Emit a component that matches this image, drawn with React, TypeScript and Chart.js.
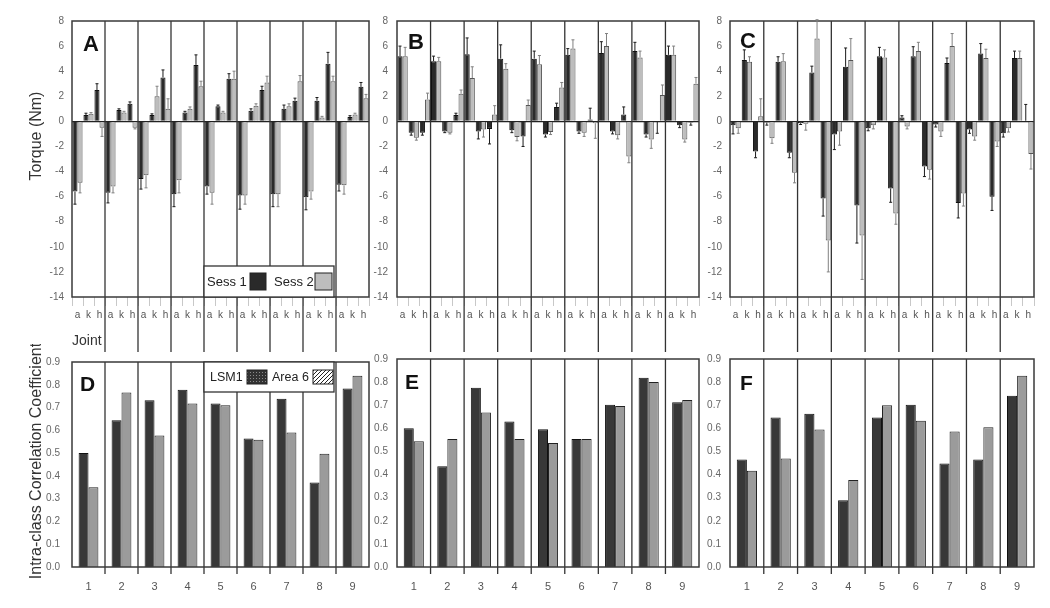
import React, { useEffect, useRef } from 'react';
import { Chart, registerables } from 'chart.js';

Chart.register(...registerables);

// ---------------- data ----------------
const JOINTS = ['a', 'k', 'h'];
const GROUPS = ['1', '2', '3', '4', '5', '6', '7', '8', '9'];
const SESSIONS = ['Sess 1', 'Sess 2'];
const AREAS = ['LSM1', 'Area 6'];

const TORQUE_MIN = -14;
const TORQUE_MAX = 8;
const TORQUE_STEP = 2;
const ICC_MIN = 0;
const ICC_MAX = 0.9;
const ICC_STEP = 0.1;

const TORQUE_TITLE = 'Torque (Nm)';
const ICC_TITLE = 'Intra-class Correlation Coefficient';
const JOINT_TITLE = 'Joint';

// Panel A (joint order a, k, h for groups 1..9)
const A_SESS1 = [-5.6, 0.5, 2.5, -5.7, 0.9, 1.4, -4.6, 0.5, 3.5, -5.8, 0.7, 4.5, -5.2, 1.2, 3.4, -5.9, 0.85, 2.5, -5.8, 1.0, 1.65, -6.05, 1.65, 4.6, -5.05, 0.35, 2.75];
const A_SESS2 = [-4.9, 0.6, -0.5, -5.2, 0.7, -0.5, -4.3, 2.0, 1.0, -4.7, 1.0, 2.8, -5.7, 0.7, 3.4, -5.9, 1.25, 3.1, -5.8, 1.2, 3.2, -5.6, 0.3, 3.2, -5.1, 0.55, 1.85];
const A_ERR1 = [1.0, 0.15, 0.5, 0.8, 0.1, 0.15, 0.8, 0.1, 0.6, 1.0, 0.1, 0.8, 0.6, 0.1, 0.4, 1.1, 0.15, 0.3, 1.0, 0.3, 0.2, 1.0, 0.25, 0.9, 0.5, 0.1, 0.35];
const A_ERR2 = [0.8, 0.1, 0.7, 0.5, 0.1, 0.1, 1.0, 0.8, 0.8, 1.0, 0.15, 0.4, 0.9, 0.1, 0.6, 0.7, 0.15, 0.5, 1.0, 0.2, 0.45, 0.6, 0.1, 0.4, 0.7, 0.1, 0.3];

// Panel B
const B_SESS1 = [5.2, -0.9, -0.9, 4.8, -0.8, 0.5, 5.35, -0.8, -0.6, 5.0, -0.7, -1.2, 5.0, -1.05, 1.15, 5.3, -0.8, 0.15, 5.45, -0.8, 0.55, 5.6, -1.05, -0.05, 5.3, -0.3, -0.1];
const B_SESS2 = [5.2, -1.3, 1.75, 4.8, -0.9, 2.2, 3.45, -0.65, 0.55, 4.2, -1.25, 1.3, 4.55, -0.85, 2.7, 5.8, -0.9, -0.15, 6.0, -1.1, -2.8, 5.1, -1.45, 2.1, 5.3, -1.45, 3.0];
const B_ERR1 = [0.8, 0.2, 0.2, 0.4, 0.1, 0.15, 1.3, 0.6, 1.2, 1.1, 0.2, 0.8, 0.6, 0.2, 0.3, 0.5, 0.15, 0.9, 0.9, 0.2, 0.6, 0.7, 0.2, 0.9, 0.7, 0.2, 0.2];
const B_ERR2 = [0.7, 0.2, 0.5, 0.3, 0.1, 0.3, 0.9, 0.6, 0.7, 0.4, 0.3, 0.4, 0.7, 0.2, 0.4, 0.7, 0.3, 1.2, 1.0, 0.3, 0.5, 0.5, 0.7, 0.8, 0.7, 0.2, 0.5];

// Panel C
const C_SESS1 = [-0.3, 4.9, -2.4, -0.1, 4.75, -2.5, -0.15, 3.9, -6.15, -1.05, 4.35, -6.7, -0.55, 5.2, -5.35, 0.3, 5.2, -3.6, -0.25, 4.65, -6.5, -0.65, 5.4, -6.0, -0.95, 5.05, 0.05];
const C_SESS2 = [-0.55, 4.75, 0.4, -1.35, 4.8, -4.1, -0.2, 6.6, -9.5, -0.8, 4.9, -9.1, -0.3, 5.1, -7.35, -0.4, 5.6, -3.85, -0.8, 6.0, -5.75, -1.2, 5.05, -1.6, -0.55, 5.05, -2.6];
const C_ERR1 = [0.7, 0.8, 0.5, 0.2, 0.4, 0.4, 0.1, 0.5, 1.4, 1.2, 1.5, 3.0, 0.2, 0.7, 1.1, 0.15, 0.75, 0.8, 0.2, 0.4, 1.2, 0.3, 0.8, 1.1, 0.3, 0.55, 1.3];
const C_ERR2 = [0.4, 0.4, 1.4, 0.4, 0.6, 0.8, 0.5, 1.5, 2.5, 1.1, 1.7, 3.5, 0.3, 0.6, 0.85, 0.2, 0.7, 0.75, 0.4, 1.0, 1.0, 0.3, 0.7, 0.4, 0.3, 0.55, 1.2];

// Panels D, E, F (groups 1..9)
const D_LSM1 = [0.5, 0.644, 0.732, 0.778, 0.718, 0.564, 0.739, 0.371, 0.784];
const D_AREA6 = [0.35, 0.766, 0.577, 0.718, 0.71, 0.559, 0.591, 0.497, 0.84];
const E_LSM1 = [0.6, 0.436, 0.776, 0.63, 0.596, 0.554, 0.702, 0.819, 0.713];
const E_AREA6 = [0.544, 0.554, 0.669, 0.554, 0.536, 0.554, 0.697, 0.8, 0.723];
const F_LSM1 = [0.465, 0.647, 0.663, 0.289, 0.647, 0.702, 0.448, 0.465, 0.741];
const F_AREA6 = [0.417, 0.47, 0.595, 0.376, 0.7, 0.633, 0.586, 0.605, 0.828];

const JOINT_LABELS = GROUPS.flatMap(() => JOINTS);

// ---------------- styling ----------------
const FONT = "'Liberation Sans', Arial, Helvetica, sans-serif";
const SESS1_COLOR = '#2a2a2a';
const SESS2_COLOR = '#bdbdbd';
const LSM1_COLOR = '#383838';
const AREA6_COLOR = '#9b9b9b';

type TextItem = {
  text: string;
  x: number;
  y: number;
  font: string;
  color?: string;
  rel?: boolean;
  rot?: number;
  align?: CanvasTextAlign;
  baseline?: CanvasTextBaseline;
};

function textPlugin(items: TextItem[]) {
  return {
    id: 'texts',
    afterDraw(chart: any) {
      const ctx = chart.ctx as CanvasRenderingContext2D;
      const a = chart.chartArea;
      items.forEach((t) => {
        ctx.save();
        ctx.font = t.font;
        ctx.fillStyle = t.color || '#111';
        ctx.textAlign = t.align || 'left';
        ctx.textBaseline = t.baseline || 'alphabetic';
        const x = (t.rel ? a.left : 0) + t.x;
        const y = (t.rel ? a.top : 0) + t.y;
        ctx.translate(x, y);
        if (t.rot) ctx.rotate(t.rot);
        ctx.fillText(t.text, 0, 0);
        ctx.restore();
      });
    },
  };
}

const framePlugin = {
  id: 'frame',
  afterDatasetsDraw(chart: any) {
    const ctx = chart.ctx as CanvasRenderingContext2D;
    const a = chart.chartArea;
    ctx.save();
    ctx.strokeStyle = '#3a3a3a';
    ctx.lineWidth = 1.5;
    ctx.strokeRect(a.left, a.top, a.right - a.left, a.bottom - a.top);
    ctx.restore();
  },
};

function separatorPlugin(per: number, toCanvasBottom: boolean, ext: number) {
  return {
    id: 'separators',
    beforeDatasetsDraw(chart: any) {
      const ctx = chart.ctx as CanvasRenderingContext2D;
      const a = chart.chartArea;
      const xs = chart.scales.x;
      const n = chart.data.labels.length;
      ctx.save();
      ctx.strokeStyle = '#333';
      ctx.lineWidth = 1.3;
      for (let i = per; i < n; i += per) {
        const px = (xs.getPixelForValue(i - 1) + xs.getPixelForValue(i)) / 2;
        ctx.beginPath();
        ctx.moveTo(px, a.top);
        ctx.lineTo(px, toCanvasBottom ? chart.height : a.bottom + ext);
        ctx.stroke();
      }
      ctx.restore();
    },
  };
}

const errorBarPlugin = {
  id: 'errorBars',
  afterDatasetsDraw(chart: any) {
    const ctx = chart.ctx as CanvasRenderingContext2D;
    const ys = chart.scales.y;
    chart.data.datasets.forEach((ds: any, d: number) => {
      if (!ds.errors) return;
      const meta = chart.getDatasetMeta(d);
      ctx.save();
      ctx.strokeStyle = ds.errColor || '#222';
      ctx.lineWidth = 1;
      meta.data.forEach((el: any, i: number) => {
        const v = ds.data[i];
        const e = ds.errors[i];
        if (!e) return;
        const dir = v < 0 ? -1 : 1;
        const y0 = ys.getPixelForValue(v);
        const y1 = ys.getPixelForValue(v + dir * e);
        ctx.beginPath();
        ctx.moveTo(el.x, y0);
        ctx.lineTo(el.x, y1);
        ctx.moveTo(el.x - 1.5, y1);
        ctx.lineTo(el.x + 1.5, y1);
        ctx.stroke();
      });
      ctx.restore();
    });
  },
};

function makePattern(ctx: CanvasRenderingContext2D, kind: string): CanvasPattern | string {
  const c = document.createElement('canvas');
  if (kind === 'dots') {
    c.width = 3;
    c.height = 3;
    const p = c.getContext('2d')!;
    p.fillStyle = '#333';
    p.fillRect(0, 0, 3, 3);
    p.fillStyle = '#8a8a8a';
    p.fillRect(1, 1, 1, 1);
  } else {
    c.width = 4;
    c.height = 4;
    const p = c.getContext('2d')!;
    p.fillStyle = '#fff';
    p.fillRect(0, 0, 4, 4);
    p.strokeStyle = '#222';
    p.lineWidth = 1;
    p.beginPath();
    p.moveTo(0, 4);
    p.lineTo(4, 0);
    p.moveTo(-1, 1);
    p.lineTo(1, -1);
    p.moveTo(3, 5);
    p.lineTo(5, 3);
    p.stroke();
  }
  return ctx.createPattern(c, 'repeat') || '#555';
}

type LegendItem = { tx: number; sx: number; sw: number; sh: number; style: string };
type LegendSpec = { dx: number; w: number; h: number; anchor: 'top' | 'bottom'; font: string; items: LegendItem[] };

function boxLegendPlugin(spec: LegendSpec) {
  return {
    id: 'boxLegend',
    afterDraw(chart: any) {
      const ctx = chart.ctx as CanvasRenderingContext2D;
      const a = chart.chartArea;
      const bx = a.left + spec.dx;
      const by = spec.anchor === 'bottom' ? a.bottom - spec.h : a.top;
      ctx.save();
      ctx.fillStyle = '#fff';
      ctx.fillRect(bx, by, spec.w, spec.h);
      ctx.strokeStyle = '#333';
      ctx.lineWidth = 1.3;
      ctx.strokeRect(bx, by, spec.w, spec.h);
      const cy = by + spec.h / 2;
      chart.data.datasets.forEach((ds: any, i: number) => {
        const it = spec.items[i];
        if (!it) return;
        ctx.font = spec.font;
        ctx.fillStyle = '#222';
        ctx.textAlign = 'left';
        ctx.textBaseline = 'middle';
        ctx.fillText(ds.label, bx + it.tx, cy + 1);
        const fill = it.style === 'solid' ? ds.backgroundColor : makePattern(ctx, it.style);
        ctx.fillStyle = fill as any;
        ctx.fillRect(bx + it.sx, cy - it.sh / 2, it.sw, it.sh);
        ctx.strokeStyle = '#222';
        ctx.lineWidth = 1;
        ctx.strokeRect(bx + it.sx, cy - it.sh / 2, it.sw, it.sh);
      });
      ctx.restore();
    },
  };
}

// ---------------- chart configs ----------------
type TorqueOpts = {
  s1: number[];
  s2: number[];
  e1: number[];
  e2: number[];
  yW: number;
  padR: number;
  tickPad: number;
  texts: TextItem[];
  legend?: LegendSpec;
};

function torqueConfig(o: TorqueOpts) {
  const plugins: any[] = [separatorPlugin(3, true, 0), framePlugin, errorBarPlugin, textPlugin(o.texts)];
  if (o.legend) plugins.push(boxLegendPlugin(o.legend));
  return {
    type: 'bar',
    data: {
      labels: JOINT_LABELS,
      datasets: [
        {
          label: SESSIONS[0],
          data: o.s1,
          errors: o.e1,
          errColor: '#1a1a1a',
          backgroundColor: SESS1_COLOR,
          borderColor: '#111',
          borderWidth: 1,
          categoryPercentage: 0.92,
          barPercentage: 1.0,
        },
        {
          label: SESSIONS[1],
          data: o.s2,
          errors: o.e2,
          errColor: '#808080',
          backgroundColor: SESS2_COLOR,
          borderColor: '#555',
          borderWidth: 1,
          categoryPercentage: 0.92,
          barPercentage: 1.0,
        },
      ],
    },
    options: {
      responsive: false,
      animation: false,
      events: [],
      layout: { padding: { top: 21, right: o.padR, left: 0, bottom: 0 } },
      plugins: { legend: { display: false }, tooltip: { enabled: false } },
      scales: {
        x: {
          type: 'category',
          offset: true,
          grid: {
            offset: true,
            drawOnChartArea: false,
            drawTicks: true,
            tickLength: 9,
            tickColor: '#c8c8c8',
            color: '#c8c8c8',
            lineWidth: 1,
          },
          border: { display: false },
          ticks: {
            autoSkip: false,
            maxRotation: 0,
            minRotation: 0,
            padding: 3,
            color: '#555',
            font: { family: FONT, size: 10 },
          },
          afterFit: (s: any) => {
            s.height = 55;
          },
        },
        y: {
          min: TORQUE_MIN,
          max: TORQUE_MAX,
          ticks: {
            stepSize: TORQUE_STEP,
            padding: o.tickPad,
            color: '#666',
            font: { family: FONT, size: 10 },
          },
          grid: {
            drawTicks: false,
            lineWidth: 1.2,
            color: (c: any) => (c.tick && c.tick.value === 0 ? '#222' : 'rgba(0,0,0,0)'),
          },
          border: { display: false },
          afterFit: (s: any) => {
            s.width = o.yW;
          },
        },
      },
    },
    plugins,
  };
}

type IccOpts = {
  lsm1: number[];
  area6: number[];
  yW: number;
  padR: number;
  tickPad: number;
  texts: TextItem[];
  legend?: LegendSpec;
};

function iccConfig(o: IccOpts) {
  const plugins: any[] = [separatorPlugin(1, false, 7), framePlugin, textPlugin(o.texts)];
  if (o.legend) plugins.push(boxLegendPlugin(o.legend));
  return {
    type: 'bar',
    data: {
      labels: GROUPS,
      datasets: [
        {
          label: AREAS[0],
          data: o.lsm1,
          backgroundColor: LSM1_COLOR,
          borderColor: '#111',
          borderWidth: 1,
          categoryPercentage: 0.6,
          barPercentage: 1.0,
        },
        {
          label: AREAS[1],
          data: o.area6,
          backgroundColor: AREA6_COLOR,
          borderColor: '#222',
          borderWidth: 1,
          categoryPercentage: 0.6,
          barPercentage: 1.0,
        },
      ],
    },
    options: {
      responsive: false,
      animation: false,
      events: [],
      layout: { padding: { top: 8, right: o.padR, left: 0, bottom: 0 } },
      plugins: { legend: { display: false }, tooltip: { enabled: false } },
      scales: {
        x: {
          type: 'category',
          offset: true,
          grid: { display: false },
          border: { display: false },
          ticks: {
            padding: 5,
            color: '#555',
            font: { family: FONT, size: 11 },
          },
          afterFit: (s: any) => {
            s.height = 41;
          },
        },
        y: {
          min: ICC_MIN,
          max: ICC_MAX,
          ticks: {
            stepSize: ICC_STEP,
            padding: o.tickPad,
            color: '#666',
            font: { family: FONT, size: 10 },
            callback: (v: any) => Number(v).toFixed(1),
          },
          grid: { display: false, drawTicks: false },
          border: { display: false },
          afterFit: (s: any) => {
            s.width = o.yW;
          },
        },
      },
    },
    plugins,
  };
}

// ---------------- components ----------------
type PanelProps = { left: number; top: number; width: number; height: number; make: () => any };

function Panel({ left, top, width, height, make }: PanelProps) {
  const ref = useRef<HTMLCanvasElement | null>(null);
  useEffect(() => {
    if (!ref.current) return;
    const chart = new Chart(ref.current, make());
    return () => chart.destroy();
  }, []);
  return (
    <canvas
      ref={ref}
      width={width}
      height={height}
      style={{ position: 'absolute', left, top, width, height }}
    />
  );
}

const letterFontTop = `bold 22px ${FONT}`;
const letterFontBottom = `bold 21px ${FONT}`;

export default function App() {
  return (
    <div
      style={{
        position: 'absolute',
        left: 0,
        top: 0,
        width: 1050,
        height: 608,
        background: '#fff',
        overflow: 'hidden',
      }}
    >
      <Panel
        left={0}
        top={0}
        width={380}
        height={352}
        make={() =>
          torqueConfig({
            s1: A_SESS1,
            s2: A_SESS2,
            e1: A_ERR1,
            e2: A_ERR2,
            yW: 72,
            padR: 11,
            tickPad: 8,
            texts: [
              { text: 'A', x: 11, y: 30, rel: true, font: letterFontTop },
              {
                text: TORQUE_TITLE,
                x: 37,
                y: 136,
                rot: -Math.PI / 2,
                align: 'center',
                baseline: 'middle',
                font: `16px ${FONT}`,
                color: '#333',
              },
              { text: JOINT_TITLE, x: 72, y: 345, font: `14px ${FONT}`, color: '#333' },
            ],
            legend: {
              dx: 132,
              w: 130,
              h: 31,
              anchor: 'bottom',
              font: `13px ${FONT}`,
              items: [
                { tx: 3, sx: 46, sw: 16, sh: 17, style: 'solid' },
                { tx: 70, sx: 111, sw: 17, sh: 17, style: 'solid' },
              ],
            },
          })
        }
      />
      <Panel
        left={360}
        top={0}
        width={350}
        height={352}
        make={() =>
          torqueConfig({
            s1: B_SESS1,
            s2: B_SESS2,
            e1: B_ERR1,
            e2: B_ERR2,
            yW: 37,
            padR: 11,
            tickPad: 9,
            texts: [{ text: 'B', x: 11, y: 28, rel: true, font: letterFontTop }],
          })
        }
      />
      <Panel
        left={700}
        top={0}
        width={350}
        height={352}
        make={() =>
          torqueConfig({
            s1: C_SESS1,
            s2: C_SESS2,
            e1: C_ERR1,
            e2: C_ERR2,
            yW: 30,
            padR: 16,
            tickPad: 8,
            texts: [{ text: 'C', x: 10, y: 27, rel: true, font: letterFontTop }],
          })
        }
      />
      <Panel
        left={0}
        top={344}
        width={380}
        height={264}
        make={() =>
          iccConfig({
            lsm1: D_LSM1,
            area6: D_AREA6,
            yW: 72,
            padR: 11,
            tickPad: 12,
            texts: [
              { text: 'D', x: 8, y: 29, rel: true, font: letterFontBottom },
              {
                text: ICC_TITLE,
                x: 37,
                y: 117,
                rot: -Math.PI / 2,
                align: 'center',
                baseline: 'middle',
                font: `16px ${FONT}`,
                color: '#333',
              },
            ],
            legend: {
              dx: 132,
              w: 130,
              h: 30,
              anchor: 'top',
              font: `12.5px ${FONT}`,
              items: [
                { tx: 6, sx: 43, sw: 20, sh: 14, style: 'dots' },
                { tx: 68, sx: 109, sw: 20, sh: 14, style: 'hatch' },
              ],
            },
          })
        }
      />
      <Panel
        left={360}
        top={344}
        width={350}
        height={264}
        make={() =>
          iccConfig({
            lsm1: E_LSM1,
            area6: E_AREA6,
            yW: 37,
            padR: 11,
            tickPad: 9,
            texts: [{ text: 'E', x: 8, y: 30, rel: true, font: letterFontBottom }],
          })
        }
      />
      <Panel
        left={700}
        top={344}
        width={350}
        height={264}
        make={() =>
          iccConfig({
            lsm1: F_LSM1,
            area6: F_AREA6,
            yW: 30,
            padR: 16,
            tickPad: 9,
            texts: [{ text: 'F', x: 10, y: 31, rel: true, font: letterFontBottom }],
          })
        }
      />
    </div>
  );
}
